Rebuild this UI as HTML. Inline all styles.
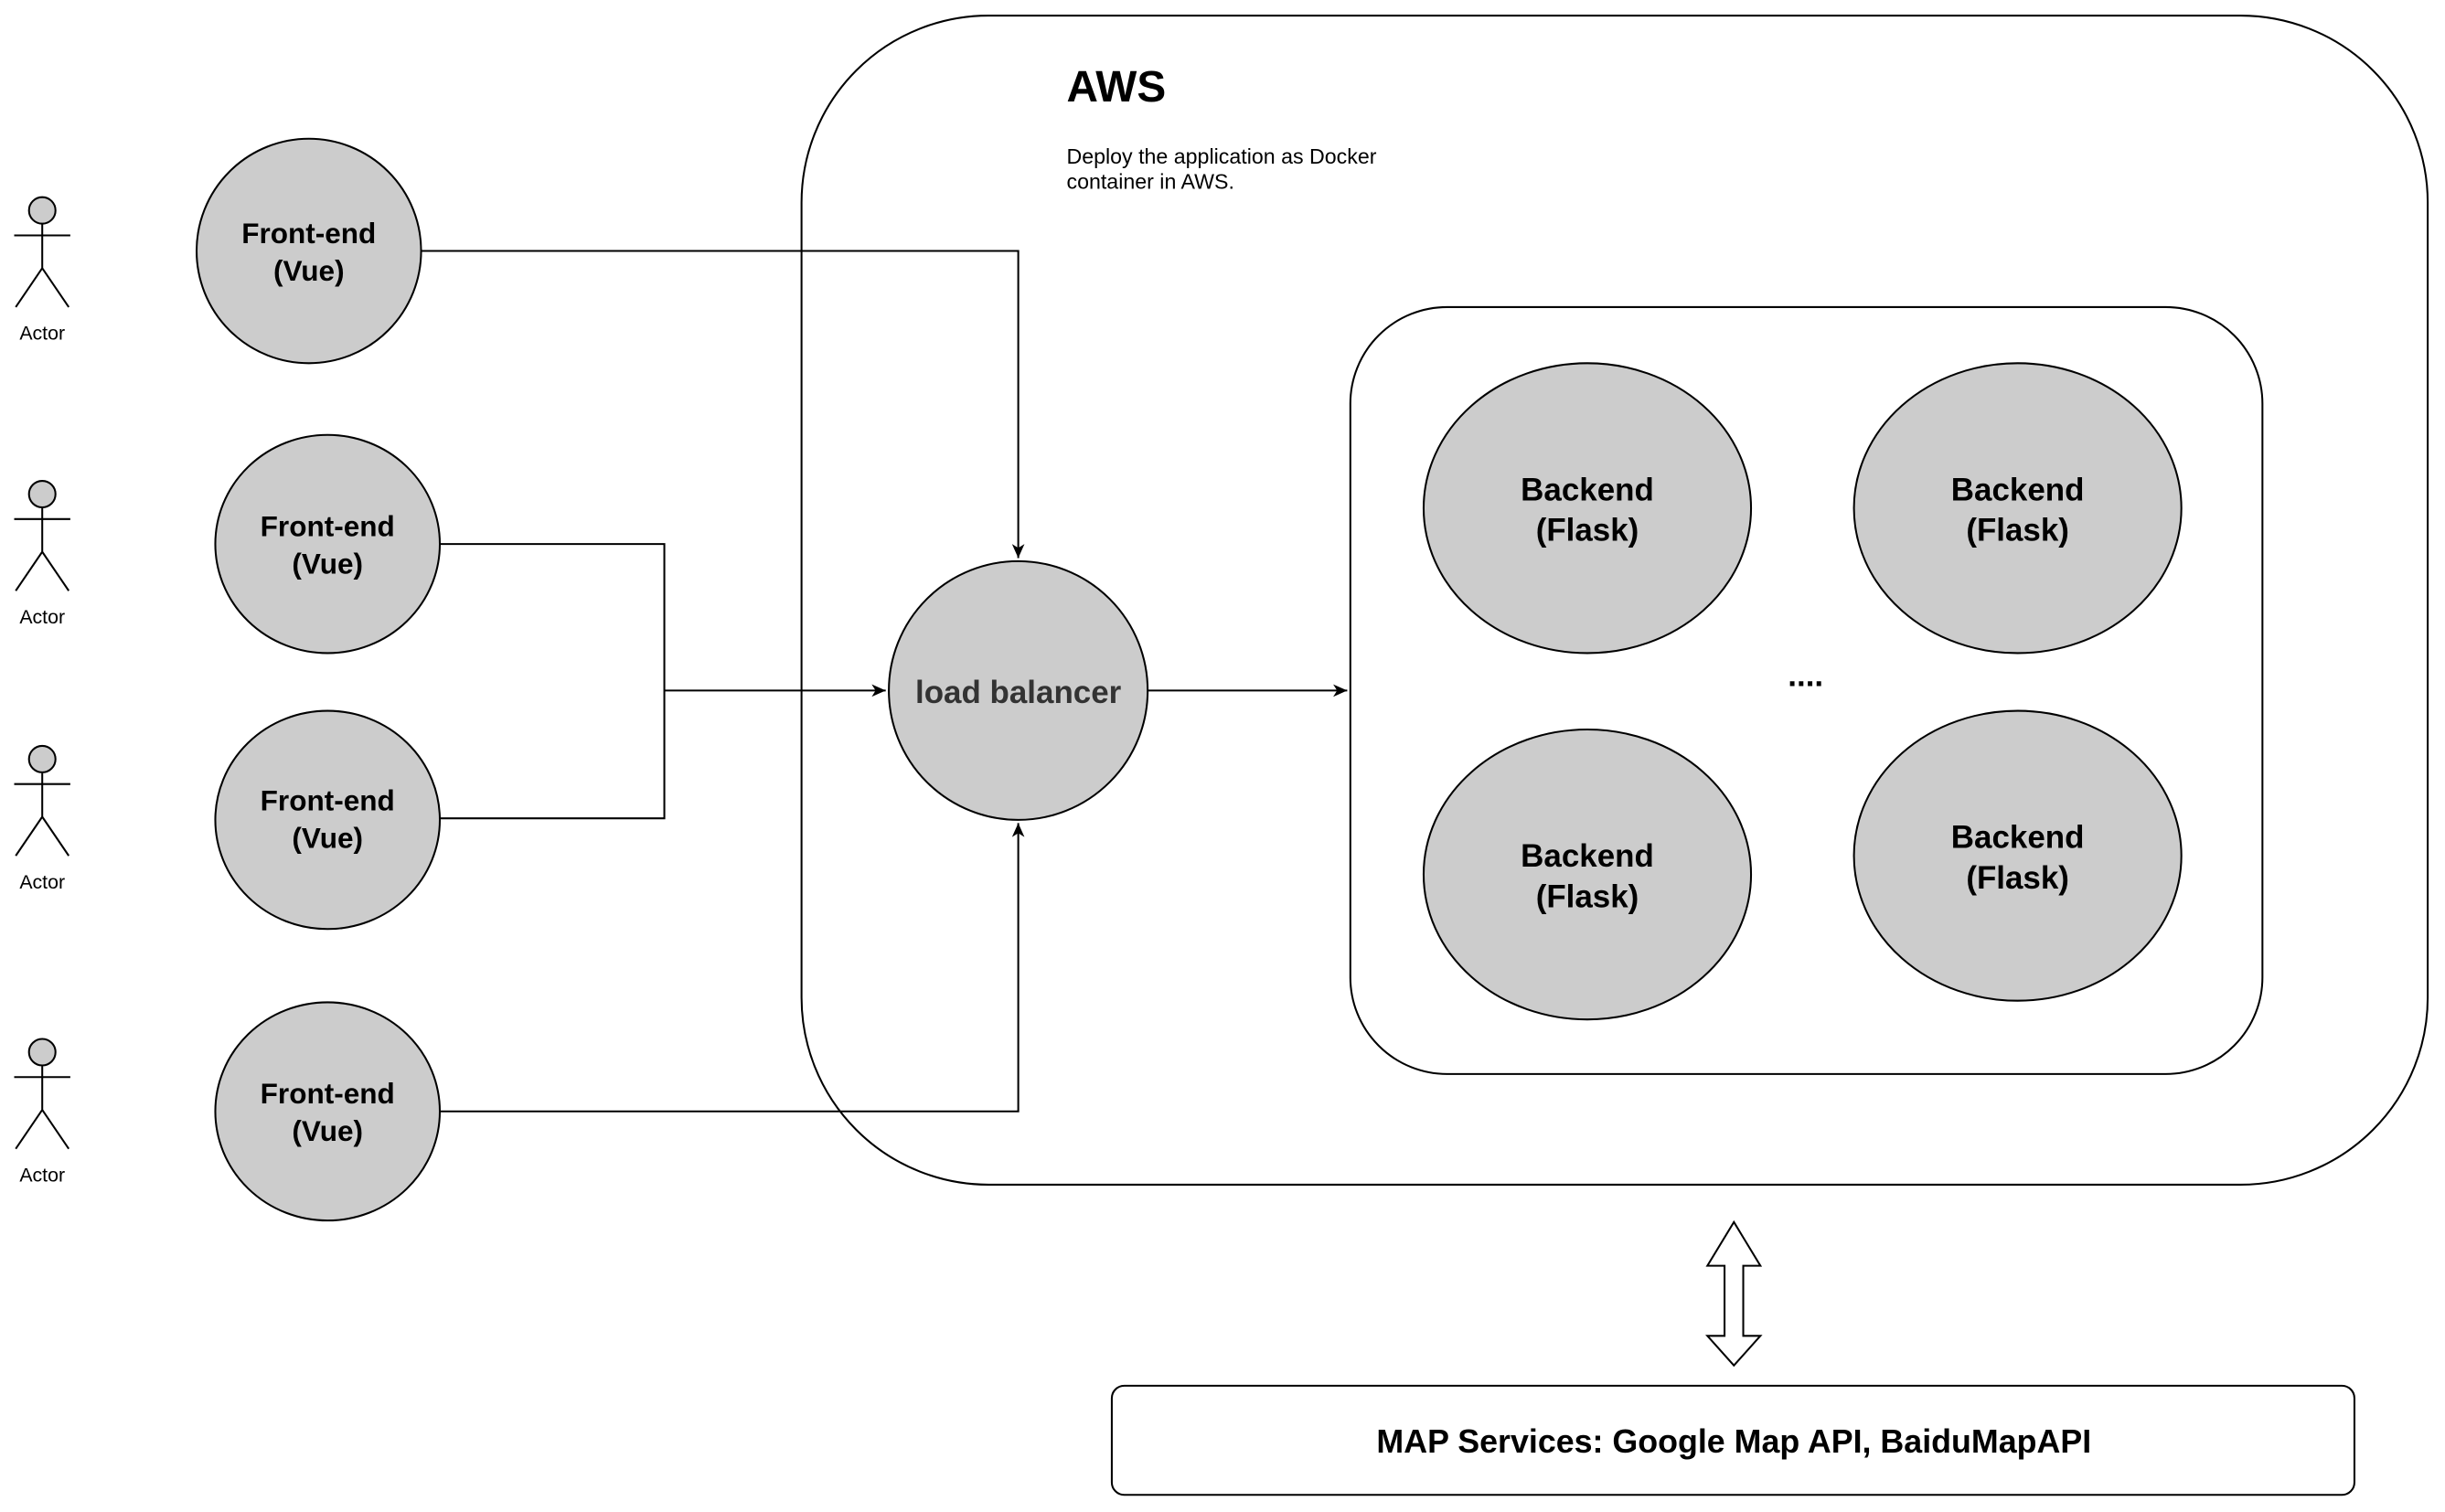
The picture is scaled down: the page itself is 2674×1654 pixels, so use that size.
<!DOCTYPE html>
<html><head><meta charset="utf-8"><style>html,body{margin:0;padding:0;background:#fff}svg{display:block}</style></head>
<body>
<svg width="2674" height="1654" viewBox="0 0 1568 970" xmlns="http://www.w3.org/2000/svg" font-family="Liberation Sans, Arial, sans-serif">
<defs><marker id="a" markerWidth="10" markerHeight="10" refX="9" refY="5" orient="auto" markerUnits="userSpaceOnUse"><path d="M0,1 L9,5 L0,9 L2.5,5 Z" fill="#000"/></marker></defs>
<rect x="514" y="10" width="1043" height="750" rx="120" fill="#fff" stroke="#000" stroke-width="1.2"/>
<text x="684" y="65" font-size="28" font-weight="bold">AWS</text>
<text x="684" y="105" font-size="13.6">Deploy the application as Docker</text>
<text x="684" y="121" font-size="13.6">container in AWS.</text>
<g stroke="#000" stroke-width="1.2" fill="none">
<path d="M270,161 H653 V358" marker-end="url(#a)"/>
<path d="M282,349 H426 V525 H282"/>
<path d="M426,443 H568" marker-end="url(#a)"/>
<path d="M282,713 H653 V528" marker-end="url(#a)"/>
<path d="M736,443 H864" marker-end="url(#a)"/>
</g>
<g stroke="#000" stroke-width="1.2">
<g id="act" fill="none"><circle cx="27" cy="135" r="8.5" fill="#ccc"/><path d="M27,144 V172 M9,151 H45 M27,172 L10,197 M27,172 L44,197"/></g>
<use href="#act" y="182"/><use href="#act" y="352"/><use href="#act" y="540"/>
</g>
<g font-size="12.5" text-anchor="middle"><text x="27" y="218">Actor</text><text x="27" y="400">Actor</text><text x="27" y="570">Actor</text><text x="27" y="758">Actor</text></g>
<g fill="#ccc" stroke="#000" stroke-width="1.2">
<ellipse cx="198" cy="161" rx="72" ry="72"/>
<ellipse cx="210" cy="349" rx="72" ry="70"/>
<ellipse cx="210" cy="526" rx="72" ry="70"/>
<ellipse cx="210" cy="713" rx="72" ry="70"/>
<circle cx="653" cy="443" r="83"/>
</g>
<g font-size="18.5" font-weight="bold" text-anchor="middle">
<text x="198" y="156">Front-end</text><text x="198" y="180">(Vue)</text>
<text x="210" y="344">Front-end</text><text x="210" y="368">(Vue)</text>
<text x="210" y="520">Front-end</text><text x="210" y="544">(Vue)</text>
<text x="210" y="708">Front-end</text><text x="210" y="732">(Vue)</text>
</g>
<text x="653" y="451" font-size="20.5" font-weight="bold" fill="#333" text-anchor="middle">load balancer</text>
<rect x="866" y="197" width="585" height="492" rx="62" fill="#fff" stroke="#000" stroke-width="1.2"/>
<g fill="#ccc" stroke="#000" stroke-width="1.2">
<ellipse cx="1018" cy="326" rx="105" ry="93"/>
<ellipse cx="1294" cy="326" rx="105" ry="93"/>
<ellipse cx="1018" cy="561" rx="105" ry="93"/>
<ellipse cx="1294" cy="549" rx="105" ry="93"/>
</g>
<g font-size="20.5" font-weight="bold" text-anchor="middle">
<text x="1018" y="321">Backend</text><text x="1018" y="347">(Flask)</text>
<text x="1294" y="321">Backend</text><text x="1294" y="347">(Flask)</text>
<text x="1018" y="556">Backend</text><text x="1018" y="582">(Flask)</text>
<text x="1294" y="544">Backend</text><text x="1294" y="570">(Flask)</text>
<text x="1158" y="440">....</text>
</g>
<path d="M1112,784 L1129,812 L1118,812 L1118,857 L1129,857 L1112,876 L1095,857 L1106,857 L1106,812 L1095,812 Z" fill="#fff" stroke="#000" stroke-width="1.2"/>
<rect x="713" y="889" width="797" height="70" rx="8" fill="#fff" stroke="#000" stroke-width="1.2"/>
<text x="1112" y="932" font-size="21" font-weight="bold" text-anchor="middle">MAP Services: Google Map API, BaiduMapAPI</text>
</svg>
</body></html>
